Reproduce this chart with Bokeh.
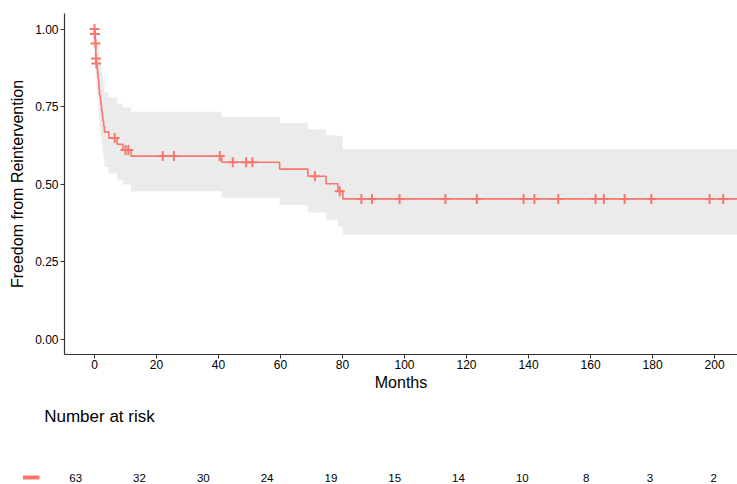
from bokeh.plotting import figure
from bokeh.models import Range1d, FixedTicker, NumeralTickFormatter, ColumnDataSource
from bokeh.core.properties import value
from bokeh.embed import file_html
from bokeh.resources import INLINE

# ---- Kaplan-Meier estimate (months, freedom from reintervention)
step_time = [0, 0.1, 0.25, 0.4, 0.55, 0.8, 1.0, 1.2, 1.4, 1.5, 1.6, 1.9, 2.1, 2.3, 2.5,
             2.7, 2.95, 3.2, 4.6, 7.3, 9.2, 11.8, 41.0, 59.7, 68.8, 74.7, 78.5, 80.1, 215]
step_surv = [1.000, 0.984, 0.953, 0.905, 0.889, 0.872, 0.855, 0.838, 0.821, 0.804, 0.787,
             0.770, 0.754, 0.737, 0.720, 0.703, 0.686, 0.668, 0.648, 0.628, 0.610, 0.590,
             0.570, 0.548, 0.525, 0.501, 0.477, 0.452, 0.452]
ci_upper = [1.000, 1.000, 1.000, 0.977, 0.970, 0.962, 0.951, 0.937, 0.927, 0.916, 0.903,
            0.890, 0.878, 0.862, 0.848, 0.832, 0.815, 0.797, 0.779, 0.760, 0.747, 0.733,
            0.716, 0.697, 0.677, 0.657, 0.655, 0.612, 0.612]
ci_lower = [1.000, 0.953, 0.901, 0.838, 0.815, 0.790, 0.769, 0.749, 0.727, 0.706, 0.686,
            0.666, 0.647, 0.630, 0.611, 0.594, 0.578, 0.555, 0.533, 0.514, 0.498, 0.477,
            0.456, 0.432, 0.408, 0.385, 0.362, 0.337, 0.337]

# censored observations
censor_time = [0.0, 0.1, 0.3, 0.45, 0.6, 6.5, 10.0, 10.9, 22.0, 25.6, 40.4, 44.6, 48.9,
               50.9, 71.1, 79.1, 86.1, 89.5, 98.4, 113.2, 123.3, 138.4, 141.9, 149.6,
               161.6, 164.3, 171.0, 179.6, 198.4, 202.8]
censor_surv = [1.000, 0.984, 0.953, 0.905, 0.889, 0.648, 0.610, 0.610, 0.590, 0.590, 0.590,
               0.570, 0.570, 0.570, 0.525, 0.477, 0.452, 0.452, 0.452, 0.452, 0.452, 0.452,
               0.452, 0.452, 0.452, 0.452, 0.452, 0.452, 0.452, 0.452]

x_ticks = [0, 20, 40, 60, 80, 100, 120, 140, 160, 180, 200]
y_ticks = [0.0, 0.25, 0.50, 0.75, 1.00]

# number at risk table
risk_time = [0, 20, 40, 60, 80, 100, 120, 140, 160, 180, 200]
risk_n = [63, 32, 30, 24, 19, 15, 14, 10, 8, 3, 2]

RED = "#F8766D"
RIBBON = "#EBEBEB"
AXIS = "#333333"
FONT = "Liberation Sans"

W = 737
MAIN_H = 398
TABLE_H = 86

# ---------------- main survival plot
p = figure(width=W, height=MAIN_H,
           x_range=Range1d(-9.68, 207.4), y_range=Range1d(-0.05, 1.05),
           output_backend="svg", toolbar_location=None,
           min_border_left=64, min_border_right=0, min_border_top=13, min_border_bottom=44)

p.varea_step(x=step_time, y1=ci_lower, y2=ci_upper, step_mode="after",
             fill_color=RIBBON, fill_alpha=1.0)
p.step(step_time, step_surv, mode="after", line_color=RED, line_width=1.6)
p.scatter(censor_time, censor_surv, marker="cross", size=10, line_color=RED, line_width=2)

p.xgrid.visible = False
p.ygrid.visible = False
p.outline_line_color = None
p.background_fill_color = "white"
p.border_fill_color = "white"

p.xaxis.ticker = FixedTicker(ticks=x_ticks)
p.yaxis.ticker = FixedTicker(ticks=y_ticks)
p.yaxis.formatter = NumeralTickFormatter(format="0.00")
p.xaxis.axis_label = "Months"
p.yaxis.axis_label = "Freedom from Reintervention"

for ax in (p.xaxis, p.yaxis):
    ax.axis_line_color = AXIS
    ax.axis_line_width = 1.2
    ax.major_tick_line_color = AXIS
    ax.major_tick_in = 0
    ax.major_tick_out = 4
    ax.minor_tick_line_color = None
    ax.major_label_text_font = FONT
    ax.major_label_text_font_size = "12px"
    ax.major_label_text_color = "black"
    ax.axis_label_text_font = FONT
    ax.axis_label_text_font_size = "16px"
    ax.axis_label_text_font_style = "normal"
    ax.axis_label_text_color = "black"

p.xaxis.major_label_standoff = 1
p.xaxis.axis_label_standoff = 2
p.yaxis.major_label_standoff = 2
p.yaxis.axis_label_standoff = 6

# ---------------- number-at-risk table (separate root, its own scale)
T0_PX = 75.2          # screen x of month 0 in the table
PX_PER_MONTH = 3.19
def table_x(px):
    return (px - T0_PX) / PX_PER_MONTH

t = figure(width=W, height=TABLE_H,
           x_range=Range1d(table_x(0), table_x(W)), y_range=Range1d(TABLE_H, 0),
           output_backend="svg", toolbar_location=None,
           x_axis_location=None, y_axis_location=None, min_border=0)
t.xgrid.visible = False
t.ygrid.visible = False
t.outline_line_color = None

t.text(x=[table_x(43.7)], y=[18], text=["Number at risk"],
       text_font=value(FONT), text_font_size="17px", text_color="black",
       text_align="left", text_baseline="middle")

src = ColumnDataSource(dict(x=risk_time, y=[79] * len(risk_time),
                            txt=[str(n) for n in risk_n]))
t.text(x="x", y="y", text="txt", source=src,
       text_font=value(FONT), text_font_size="11.5px", text_color="black",
       text_align="center", text_baseline="middle")

t.rect(x=[table_x(30.8)], y=[79], width=16.5, height=4,
       width_units="screen", height_units="screen",
       fill_color=RED, line_color=None)

open("out.html", "w").write(file_html([p, t], INLINE))
